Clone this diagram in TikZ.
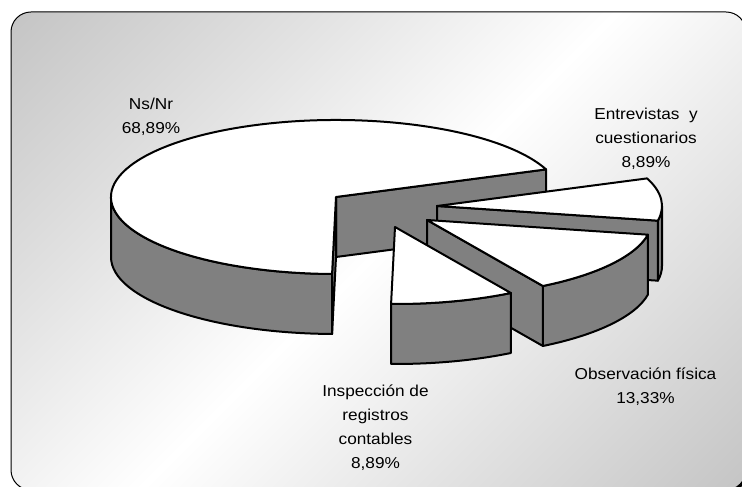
\documentclass[tikz,border=0pt]{standalone}
\usepackage{fontspec}
\newfontfamily\lblfont{Liberation Sans}[FakeStretch=1.09]
\usetikzlibrary{calc}
\definecolor{pieside}{gray}{0.5}
\definecolor{panelgrey}{gray}{0.77}
% grey - white - grey fade; the grey is reached at the panel corners
\pgfdeclareverticalshading{panelfade}{100bp}{color(0bp)=(panelgrey); color(14.6bp)=(panelgrey); color(50bp)=(white); color(85.4bp)=(panelgrey); color(100bp)=(panelgrey)}
\begin{document}
\begin{tikzpicture}[x=1pt,y=1pt,line join=round,
  slicepart/.style={draw=black,line width=2pt},
  sideface/.style={slicepart,fill=pieside},
  topface/.style={slicepart,fill=white},
  pct/.style={font=\lblfont\fontsize{15.8}{23.8}\selectfont,align=center,text=black,inner sep=0pt}]
\useasboundingbox (0,0) rectangle (742,487);
\clip (0,0) rectangle (742,487);

% chart panel with diagonal grey-white-grey fill and a small shadow
\fill[black,rounded corners=20pt] (13,-5) rectangle (748,473);
\path[draw=black,line width=1pt,rounded corners=20pt,shading=panelfade,shading angle=45]
  (11,-3) rectangle (746,475);

\begin{scope}[x radius=225,y radius=77]
% ---- Ns/Nr (68,89%), 21 to 269 degrees
\coordinate (cM) at (336,290);
\coordinate (cMb) at (336,230);
\coordinate (M21) at ($(cM)+(21:225 and 77)$);
\coordinate (M180) at ($(cM)+(180:225 and 77)$);
\coordinate (M269) at ($(cM)+(269:225 and 77)$);
\path[sideface] (M180) -- ++(0,-60) arc[start angle=180,end angle=269] -- (M269) arc[start angle=269,end angle=180] -- cycle;
\path[sideface] (cM) -- (M21) -- ++(0,-60) -- (cMb) -- cycle;
\path[sideface] (cM) -- (M269) -- ++(0,-60) -- (cMb) -- cycle;
\path[topface] (cM) -- (M21) arc[start angle=21,end angle=269] -- cycle;

% ---- Entrevistas y cuestionarios (8,89%), 349 to 381 degrees
\coordinate (cE) at (437,281);
\coordinate (cEb) at (437,221);
\coordinate (E349) at ($(cE)+(349:225 and 77)$);
\coordinate (E360) at ($(cE)+(0:225 and 77)$);
\path[sideface] (E349) -- ++(0,-60) arc[start angle=349,end angle=360] -- (E360) arc[start angle=360,end angle=349] -- cycle;
\path[sideface] (cE) -- (E349) -- ++(0,-60) -- (cEb) -- cycle;
\path[topface] (cE) -- (E349) arc[start angle=349,end angle=381] -- cycle;

% ---- Observacion fisica (13,33%), 301 to 349 degrees
\coordinate (cO) at (427,267);
\coordinate (cOb) at (427,207);
\coordinate (O301) at ($(cO)+(301:225 and 77)$);
\coordinate (O349) at ($(cO)+(349:225 and 77)$);
\path[sideface] (O301) -- ++(0,-60) arc[start angle=301,end angle=349] -- (O349) arc[start angle=349,end angle=301] -- cycle;
\path[sideface] (cO) -- (O301) -- ++(0,-60) -- (cOb) -- cycle;
\path[topface] (cO) -- (O301) arc[start angle=301,end angle=349] -- cycle;

% ---- Inspeccion de registros contables (8,89%), 269 to 301 degrees
\coordinate (cI) at (395,260);
\coordinate (I269) at ($(cI)+(269:225 and 77)$);
\coordinate (I301) at ($(cI)+(301:225 and 77)$);
\path[sideface] (I269) -- ++(0,-60) arc[start angle=269,end angle=301] -- (I301) arc[start angle=301,end angle=269] -- cycle;
\path[topface] (cI) -- (I269) arc[start angle=269,end angle=301] -- cycle;
\end{scope}

% ---- data labels
\node[pct] (lblNs) at (151,370.5) {Ns/Nr\\68,89\%};
\node[pct] (lblEnt) at (646,348.5) {Entrevistas\ \ y\\cuestionarios\\8,89\%};
\node[pct] (lblObs) at (645.5,100.3) {Observación física\\13,33\%};
\node[pct] (lblIns) at (375.5,59.5) {Inspección de\\registros\\contables\\8,89\%};
\end{tikzpicture}
\end{document}
